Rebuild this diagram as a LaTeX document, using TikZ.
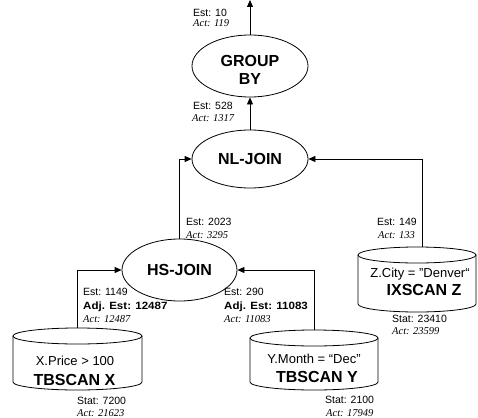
\documentclass[tikz,border=0pt]{standalone}
\usepackage{fontspec}
\usepackage{graphicx}
\setmainfont{Liberation Sans}
\newfontfamily\timesfont{Liberation Serif}
\usetikzlibrary{shapes.geometric,arrows.meta}
\tikzset{
 opnode/.style={ellipse, draw, line width=0.8pt, inner sep=0, font=\fontsize{16}{18}\selectfont\bfseries, align=center},
 optext/.style={inner sep=0, font=\fontsize{16}{18}\selectfont\bfseries, align=center},
 conn/.style={line width=0.8pt, -{Triangle[length=7pt,width=6pt]}},
 est/.style={anchor=base west, inner sep=0, font=\fontsize{10.5}{12}\selectfont},
 adj/.style={anchor=base west, inner sep=0, font=\fontsize{10.5}{12}\selectfont\bfseries},
 act/.style={anchor=base west, inner sep=0, font=\fontsize{10.5}{12}\selectfont\timesfont\itshape},
 cond/.style={anchor=base, inner sep=0, font=\fontsize{13}{15}\selectfont},
 scan/.style={anchor=base, inner sep=0, font=\fontsize{16}{18}\selectfont\bfseries},
 cylline/.style={line width=0.8pt},
}
% #1 name, #2 centre x, #3 top y, #4 half width, #5 bottom y
\newcommand{\dbcyl}[5]{%
 \node[inner sep=0, minimum width={2*#4pt}, minimum height={(#5-#3)*1pt}, anchor=north] (#1) at (#2,#3) {};
 \draw[cylline] (#2-#4,#3+8) -- (#2-#4,#5-8) arc[start angle=180,end angle=360,x radius=#4pt,y radius=8pt] -- (#2+#4,#3+8);
 \draw[cylline] (#2,#3+8) ellipse[x radius=#4pt, y radius=8pt];
}
\begin{document}
\begin{tikzpicture}[x=1pt,y=-1pt]
\useasboundingbox (0,0) rectangle (478,417);
\coordinate (top) at (250,0);
% operators
\node[opnode, minimum width=116pt, minimum height=62pt] (gb) at (250,66) {};
\node[optext] (gbt) at (250,70) {GROUP\\BY};
\node[opnode, minimum width=116pt, minimum height=58pt] (nl) at (250,159) {NL-JOIN};
\node[opnode, minimum width=115pt, minimum height=62pt] (hs) at (179.5,270) {HS-JOIN};
% scans
\dbcyl{cx}{77.5}{328}{64.5}{390}
\dbcyl{cy}{314}{330}{64}{390}
\dbcyl{cz}{417}{247}{59}{312}
\node[cond] (t1) at (75,365) {X.Price > 100};
\node[scan] (t2) at (74.5,385) {TBSCAN X};
\node[cond] (t3) at (314,363) {Y.Month = “Dec”};
\node[scan] (t4) at (317,382) {TBSCAN Y};
\node[cond] (t5) at (420,277) {Z.City = "Denver“};
\node[scan] (t6) at (424,295) {IXSCAN Z};
% connectors
\draw[conn] (gb.north) -- (top);
\draw[conn] (nl.north) -- (gb.south);
\draw[conn] (hs.north) |- (nl.west);
\draw[conn] ([xshift=5pt]cz.north) |- (nl.east);
\draw[conn] (cx.north) |- (hs.west);
\draw[conn] (cy.north) |- (hs.east);
% labels
\node[est] (l1) at (193,17) {Est: 10};
\node[act] (l2) at (193,27) {Act: 119};
\node[est] (l3) at (193,110) {Est: 528};
\node[act] (l4) at (192,121) {Act: 1317};
\node[est] (l5) at (186,225) {Est: 2023};
\node[act] (l6) at (186,238) {Act: 3295};
\node[est] (l7) at (377,225) {Est: 149};
\node[act] (l8) at (378,238) {Act: 133};
\node[est] (l9) at (83,295) {Est: 1149};
\node[adj] (l10) at (83,309) {\scalebox{1.1}[1]{Adj. Est: 12487}};
\node[act] (l11) at (83,322) {Act: 12487};
\node[est] (l12) at (224,295) {Est: 290};
\node[adj] (l13) at (224,309) {\scalebox{1.1}[1]{Adj. Est: 11083}};
\node[act] (l14) at (224,322) {Act: 11083};
\node[est] (l15) at (77,404) {Stat: 7200};
\node[act] (l16) at (77,416) {Act: 21623};
\node[est] (l17) at (325,403) {Stat: 2100};
\node[act] (l18) at (326,416) {Act: 17949};
\node[est] (l19) at (392,322) {Stat: 23410};
\node[act] (l20) at (392,334) {Act: 23599};
\end{tikzpicture}
\end{document}
